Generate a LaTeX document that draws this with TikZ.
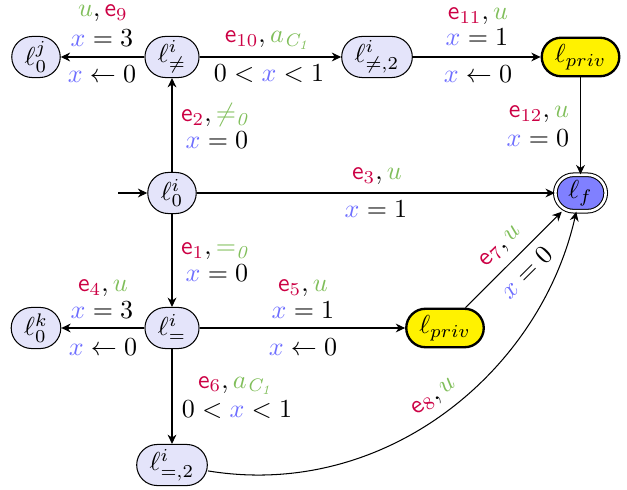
\documentclass[tikz,border=0pt]{standalone}
\usetikzlibrary{arrows.meta}
\definecolor{ered}{RGB}{204,0,68}
\definecolor{ugreen}{RGB}{128,190,90}
\definecolor{xblue}{RGB}{110,110,255}
\definecolor{locfill}{RGB}{228,228,250}
\newcommand{\Ee}[1]{\textcolor{ered}{\mathsf{e}_{#1}}}
\newcommand{\Uu}{\textcolor{ugreen}{u}}
\newcommand{\Xx}{\textcolor{xblue}{x}}
\newcommand{\Ac}{\textcolor{ugreen}{a_{\mathit{C_1}}}}
\begin{document}
\begin{tikzpicture}[x=0.3845pt,y=-0.3845pt,
  loc/.style={draw, fill=locfill, rounded corners=7.9pt, minimum height=15.8pt, inner xsep=5pt, inner ysep=1pt},
  priv/.style={loc, fill=yellow, line width=0.9pt, minimum height=14.8pt, rounded corners=7.4pt},
  fin/.style={loc, fill=blue!50, double, double distance=1pt, minimum height=14pt, minimum width=17pt, rounded corners=7pt},
  lab/.style={anchor=base, inner sep=0pt},
  >={Stealth[length=3.6pt,width=3.4pt]}]
\useasboundingbox (0,0) rectangle (627,490);
% locations
\node[loc] (l0j) at (36,57) {$\ell_0^j$};
\node[loc] (lne) at (172,57) {$\ell_{\neq}^i$};
\node[loc] (lne2) at (377,57) {$\ell_{\neq,2}^i$};
\node[priv] (lp1) at (580.5,57) {$\ell_{priv}$};
\node[loc] (l0i) at (172,193) {$\ell_0^i$};
\node[fin] (lf) at (580.5,193) {$\ell_f$};
\node[loc] (l0k) at (36,328) {$\ell_0^k$};
\node[loc] (leq) at (172,328) {$\ell_{=}^i$};
\node[priv] (lp2) at (445,328) {$\ell_{priv}$};
\node[loc] (leq2) at (172,465) {$\ell_{=,2}^i$};
\coordinate (init) at (118,193);
% edges
\draw[->] (init) -- (l0i);
\draw[->] (lne) -- (l0j);
\draw[->] (lne) -- (lne2);
\draw[->] (lne2) -- (lp1);
\draw[->] (lp1) -- (lf);
\draw[->] (l0i) -- (lne);
\draw[->] (l0i) -- (lf);
\draw[->] (l0i) -- (leq);
\draw[->] (leq) -- (l0k);
\draw[->] (leq) -- (lp2);
\draw[->] (leq) -- (leq2);
\draw[->] (lp2) -- node[sloped,above]{$\Ee{7}, \Uu$} node[sloped,below]{$\Xx = 0$} (lf);
\draw[->] (leq2) .. controls (385,500) and (540,372) .. node[pos=0.5,sloped,above]{$\Ee{8}, \Uu$} (lf);
% labels
\node[lab] (a1) at (103,17) {$\Uu, \Ee{9}$};
\node[lab] (a2) at (102,47) {$\Xx = 3$};
\node[lab] (a3) at (102,83) {$\Xx \leftarrow 0$};
\node[lab] (b1) at (268,43) {$\Ee{10}, \Ac$};
\node[lab] (b2) at (269,82) {$0 < \Xx < 1$};
\node[lab] (c1) at (478,20) {$\Ee{11}, \Uu$};
\node[lab] (c2) at (477,46) {$\Xx = 1$};
\node[lab] (c3) at (478,83) {$\Xx \leftarrow 0$};
\node[lab] (d1) at (539,118) {$\Ee{12}, \Uu$};
\node[lab] (d2) at (538,147) {$\Xx = 0$};
\node[lab] (f1) at (216,122) {$\Ee{2}, \textcolor{ugreen}{\neq_{\mathit{0}}}$};
\node[lab] (f2) at (217,149) {$\Xx = 0$};
\node[lab] (g1) at (377,180) {$\Ee{3}, \Uu$};
\node[lab] (g2) at (376,218) {$\Xx = 1$};
\node[lab] (h1) at (216,255) {$\Ee{1}, \textcolor{ugreen}{=_{\mathit{0}}}$};
\node[lab] (h2) at (217,282) {$\Xx = 0$};
\node[lab] (k1) at (103,292) {$\Ee{4}, \Uu$};
\node[lab] (k2) at (102,318) {$\Xx = 3$};
\node[lab] (k3) at (103,355) {$\Xx \leftarrow 0$};
\node[lab] (m1) at (303,292) {$\Ee{5}, \Uu$};
\node[lab] (m2) at (303,318) {$\Xx = 1$};
\node[lab] (m3) at (303,355) {$\Xx \leftarrow 0$};
\node[lab] (n1) at (236,388) {$\Ee{6}, \Ac$};
\node[lab] (n2) at (237,417) {$0 < \Xx < 1$};
\end{tikzpicture}
\end{document}
